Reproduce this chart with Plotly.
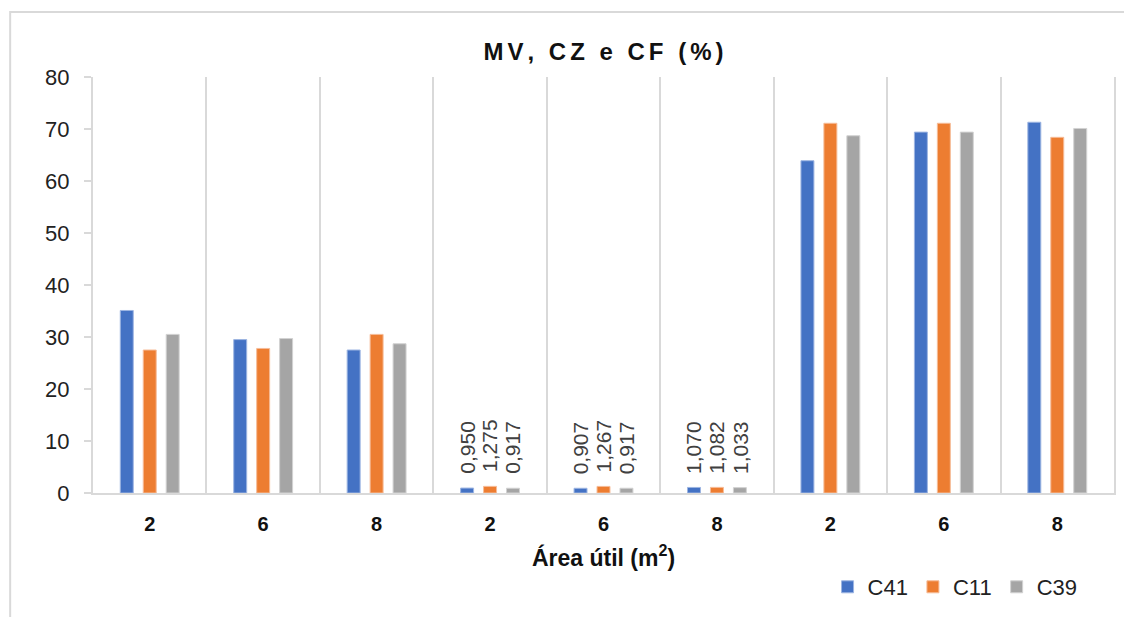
import plotly.graph_objects as go

# ---- data ----
group_names = ["MV", "MV", "MV", "CZ", "CZ", "CZ", "CF", "CF", "CF"]
areas = ["2", "6", "8", "2", "6", "8", "2", "6", "8"]
series = ["C41", "C11", "C39"]
c41 = [35.1, 29.5, 27.5, 0.950, 0.907, 1.070, 63.9, 69.4, 71.3]
c11 = [27.5, 27.8, 30.5, 1.275, 1.267, 1.082, 71.1, 71.1, 68.4]
c39 = [30.5, 29.7, 28.7, 0.917, 0.917, 1.033, 68.7, 69.4, 70.1]
colors = ["#4472C4", "#ED7D31", "#A5A5A5"]
edge_colors = ["#9DB5E2", "#F6BC98", "#D2D2D2"]
labelled_group = "CZ"

FONT = "Liberation Sans, Arial, sans-serif"
x_pos = list(range(len(areas)))
BARGAP = 0.393
slot = (1 - BARGAP) / len(series)

# page has an 8px body margin: figure is drawn from (8, 8)
W, H = 1116, 609
ML, MT, PW, PH = 85, 69, 1023, 416
MR, MB = W - ML - PW, H - MT - PH

fig = go.Figure()
annotations = []
for k, (name, vals, col, ecol) in enumerate(zip(series, [c41, c11, c39], colors, edge_colors)):
    fig.add_trace(go.Bar(
        x=x_pos, y=vals, name=name,
        marker=dict(color=col, line=dict(color=ecol, width=1)),
    ))
    for xi, v, g in zip(x_pos, vals, group_names):
        if g == labelled_group:
            annotations.append(dict(
                x=xi + (k - (len(series) - 1) / 2) * slot, y=v, xref="x", yref="y",
                text=f"{v:.3f}".replace(".", ","), showarrow=False, textangle=-90,
                xanchor="center", yanchor="bottom", yshift=12,
                font=dict(family=FONT, size=21, color="#404040"),
            ))

sep = [i - 0.5 for i in range(len(areas) + 1)]

SP = "\u2006"
NB = "\u00a0"
WG = SP + NB + SP
title_txt = SP.join(list("MV,")) + WG + SP.join(list("CZ")) + WG + "e" + WG \
    + SP.join(list("CF")) + WG + SP.join(list("(%)"))

fig.update_layout(
    width=W, height=H,
    margin=dict(l=ML, r=MR, t=MT, b=MB),
    paper_bgcolor="white", plot_bgcolor="white",
    barmode="group", bargap=BARGAP, bargroupgap=0.435,
    font=dict(family=FONT, color="#222222"),
    title=dict(text="<b>" + title_txt + "</b>", x=0.5, xref="paper", xanchor="center",
               y=1 - 44 / H, yanchor="middle",
               font=dict(family=FONT, size=24, color="#111111")),
    showlegend=True,
    legend=dict(orientation="h", x=(829 - 8 - ML) / PW, xanchor="left",
                y=-(587 - 8 - MT - PH) / PH, yanchor="middle",
                font=dict(family=FONT, size=22, color="#222222"),
                itemwidth=30, tracegroupgap=0, bgcolor="rgba(0,0,0,0)"),
    annotations=annotations,
    xaxis=dict(
        range=[-0.5, len(areas) - 0.5],
        tickmode="array", tickvals=x_pos, ticktext=["<b>" + a + "</b>" for a in areas],
        tickfont=dict(family=FONT, size=20, color="#111111"),
        ticks="", showgrid=False, zeroline=False,
        showline=True, linecolor="#D9D9D9", linewidth=2,
        ticklabelstandoff=12,
        minor=dict(tickvals=sep, showgrid=True, gridcolor="#D9D9D9", gridwidth=2, ticks=""),
        title=dict(text="<b>Área útil (m<sup>2</sup>)</b>", standoff=16,
                   font=dict(family=FONT, size=23, color="#111111")),
    ),
    yaxis=dict(
        range=[0, 80], dtick=10, tick0=0,
        tickfont=dict(family=FONT, size=22, color="#222222"),
        showgrid=False, zeroline=False,
        showline=True, linecolor="#D9D9D9", linewidth=2, mirror=True,
        ticks="outside", ticklen=7, tickcolor="#D9D9D9", tickwidth=2,
        ticklabelstandoff=10,
    ),
    shapes=[dict(type="rect", xref="paper", yref="paper",
                 x0=(2 - ML) / PW, x1=(1140 - ML) / PW,
                 y0=(MT + PH - 640) / PH, y1=(MT + PH - 4) / PH,
                 line=dict(color="#D9D9D9", width=2), fillcolor="rgba(0,0,0,0)",
                 layer="below")],
)

fig.write_html("out.html")
